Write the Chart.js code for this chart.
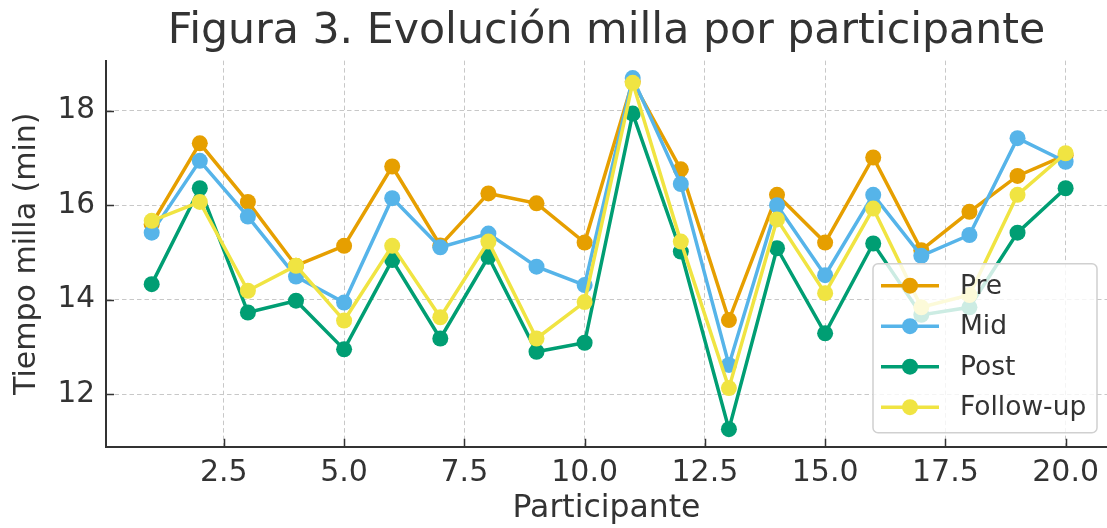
<!DOCTYPE html>
<html>
<head>
<meta charset="utf-8">
<script src="https://cdn.jsdelivr.net/npm/chart.js@4.4.1/dist/chart.umd.min.js"></script>
<style>
    body { margin: 0; background: #fff; overflow: hidden; }
    canvas { display: block; }
</style>
</head>
<body>
<canvas id="chart" width="1107" height="528"></canvas>
<script>
// data
const participants = [1, 2, 3, 4, 5, 6, 7, 8, 9, 10, 11, 12, 13, 14, 15, 16, 17, 18, 19, 20];
const pre      = [15.60, 17.31, 16.07, 14.72, 15.14, 16.82, 15.15, 16.25, 16.04, 15.21, 18.62, 16.76, 13.57, 16.22, 15.21, 17.01, 15.05, 15.86, 16.62, 17.06];
const mid      = [15.42, 16.94, 15.76, 14.49, 13.94, 16.15, 15.11, 15.40, 14.70, 14.31, 18.69, 16.45, 12.62, 16.00, 14.52, 16.22, 14.93, 15.37, 17.42, 16.92];
const post     = [14.33, 16.36, 13.73, 13.98, 12.95, 14.84, 13.18, 14.91, 12.90, 13.09, 17.94, 15.02, 11.26, 15.09, 13.29, 15.19, 13.68, 13.84, 15.42, 16.36];
const followUp = [15.67, 16.07, 14.19, 14.72, 13.56, 15.14, 13.63, 15.23, 13.18, 13.95, 18.59, 15.23, 12.13, 15.70, 14.14, 15.93, 13.84, 14.10, 16.22, 17.10];
const seriesNames = ["Pre", "Mid", "Post", "Follow-up"];
const xTicks = [2.5, 5.0, 7.5, 10.0, 12.5, 15.0, 17.5, 20.0];
const yTicks = [12, 14, 16, 18];

const colors = ["#E69F00", "#56B4E9", "#009E73", "#F0E442"];
const textColor = "#333333";
const font = "DejaVu Sans";

const makeSet = (name, values, i) => ({
    label: name,
    data: values.map((v, k) => ({ x: participants[k], y: v })),
    borderColor: colors[i],
    backgroundColor: colors[i],
    borderWidth: 3.5,
    pointRadius: 8,
    pointHoverRadius: 8,
    pointBorderWidth: 0,
    pointBackgroundColor: colors[i],
    order: 4 - i,
});

// inward tick marks, like the matplotlib axes
const innerTicks = {
    id: "innerTicks",
    afterDraw(chart) {
        const { ctx, chartArea, scales } = chart;
        ctx.save();
        ctx.strokeStyle = textColor;
        ctx.lineWidth = 1.5;
        ctx.beginPath();
        xTicks.forEach(v => {
            const px = Math.round(scales.x.getPixelForValue(v)) + 0.5;
            ctx.moveTo(px, chartArea.bottom);
            ctx.lineTo(px, chartArea.bottom - 8);
        });
        yTicks.forEach(v => {
            const py = Math.round(scales.y.getPixelForValue(v)) + 0.5;
            ctx.moveTo(chartArea.left, py);
            ctx.lineTo(chartArea.left + 8, py);
        });
        ctx.stroke();
        ctx.restore();
    }
};

// legend box in the lower right of the axes
const boxLegend = {
    id: "boxLegend",
    afterDraw(chart) {
        const { ctx, chartArea } = chart;
        const x = chartArea.right - 234, y = chartArea.bottom - 183;
        ctx.save();
        ctx.beginPath();
        ctx.roundRect(x, y, 224, 169, 5);
        ctx.fillStyle = "rgba(255,255,255,0.8)";
        ctx.fill();
        ctx.strokeStyle = "#d0d0d0";
        ctx.lineWidth = 1.5;
        ctx.stroke();
        seriesNames.forEach((name, i) => {
            const ry = y + 22 + i * 40.5;
            ctx.strokeStyle = colors[i];
            ctx.lineWidth = 3.5;
            ctx.beginPath();
            ctx.moveTo(x + 8, ry);
            ctx.lineTo(x + 66, ry);
            ctx.stroke();
            ctx.fillStyle = colors[i];
            ctx.beginPath();
            ctx.arc(x + 37, ry, 8, 0, Math.PI * 2);
            ctx.fill();
            ctx.fillStyle = textColor;
            ctx.font = `26.5px "${font}"`;
            ctx.textBaseline = "middle";
            ctx.fillText(name, x + 87, ry + 1);
        });
        ctx.restore();
    }
};

const gridStyle = {
    color: "#c8c8c8",
    lineWidth: 1,
    drawTicks: false,
};
const borderStyle = { display: true, color: textColor, width: 2, dash: [4.5, 3] };

new Chart(document.getElementById("chart"), {
    type: "line",
    data: {
        datasets: [
            makeSet(seriesNames[0], pre, 0),
            makeSet(seriesNames[1], mid, 1),
            makeSet(seriesNames[2], post, 2),
            makeSet(seriesNames[3], followUp, 3),
        ],
    },
    options: {
        responsive: false,
        animation: false,
        layout: { padding: 0, autoPadding: false },
        plugins: {
            legend: { display: false },
            tooltip: { enabled: false },
            title: {
                display: true,
                text: "Figura 3. Evolución milla por participante",
                color: textColor,
                font: { family: font, size: 42.7, weight: "normal" },
                padding: { top: 6, bottom: 3.4 },
                fullSize: false,
            },
        },
        scales: {
            x: {
                type: "linear",
                min: 0.05,
                max: 20.86,
                afterBuildTicks: s => { s.ticks = xTicks.map(v => ({ value: v })); },
                afterFit: s => { s.height = 81.3; s.paddingRight = 0; s.paddingLeft = 0; },
                grid: gridStyle,
                border: borderStyle,
                ticks: {
                    color: textColor,
                    font: { family: font, size: 30 },
                    padding: 9,
                    maxRotation: 0,
                    callback: v => v.toFixed(1),
                },
                title: {
                    display: true,
                    text: "Participante",
                    color: textColor,
                    font: { family: font, size: 31.5 },
                    padding: { top: 0, bottom: 0 },
                },
            },
            y: {
                min: 10.89,
                max: 19.06,
                afterBuildTicks: s => { s.ticks = yTicks.map(v => ({ value: v })); },
                afterFit: s => { s.width = 106; },
                grid: gridStyle,
                border: borderStyle,
                ticks: {
                    color: textColor,
                    font: { family: font, size: 29.5 },
                    padding: 11,
                },
                title: {
                    display: true,
                    text: "Tiempo milla (min)",
                    color: textColor,
                    font: { family: font, size: 30 },
                    padding: { top: 9, bottom: 0 },
                },
            },
        },
    },
    plugins: [innerTicks, boxLegend],
});
</script>
</body>
</html>
